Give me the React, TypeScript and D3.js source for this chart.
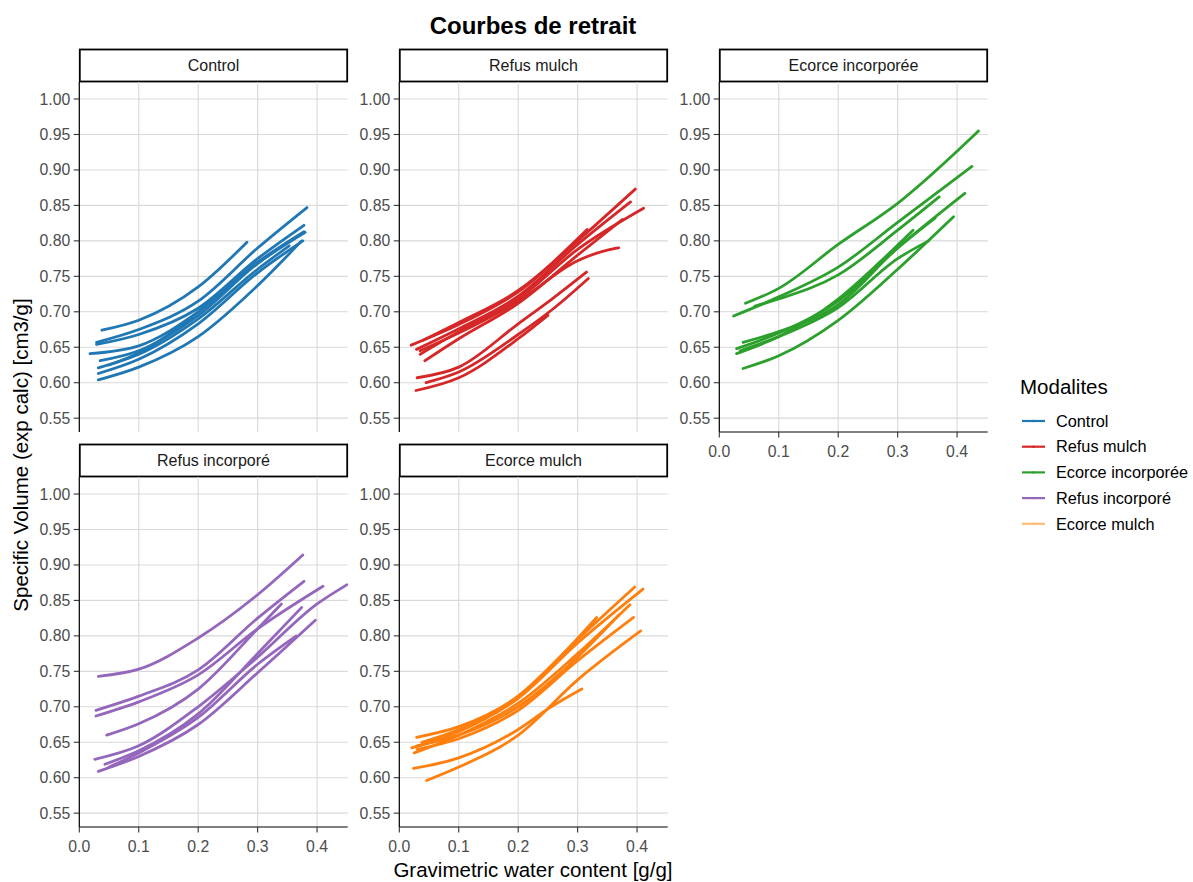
import React from "react";
import * as d3 from "d3";

// facet names and colours
const modalites = ["Control", "Refus mulch", "Ecorce incorporée", "Refus incorporé", "Ecorce mulch"];
const lineColors = ["#1f77b4", "#d62728", "#2ca02c", "#9467bd", "#ff7f0e"];
const keyColors = ["#1f77b4", "#d62728", "#2ca02c", "#9467bd", "#ffbb78"];

const xTicks = [0.0, 0.1, 0.2, 0.3, 0.4];
const yTicks = [0.55, 0.6, 0.65, 0.7, 0.75, 0.8, 0.85, 0.9, 0.95, 1.0];

// [water content, specific volume], one array per sample
const controlCurves = [
  [[0.038, 0.674], [0.1, 0.688], [0.2, 0.735], [0.282, 0.798]],
  [[0.029, 0.657], [0.1, 0.675], [0.2, 0.715], [0.3, 0.79], [0.383, 0.847]],
  [[0.029, 0.654], [0.1, 0.668], [0.2, 0.705], [0.3, 0.775], [0.378, 0.822]],
  [[0.018, 0.641], [0.1, 0.652], [0.2, 0.7], [0.3, 0.77], [0.378, 0.813]],
  [[0.035, 0.631], [0.1, 0.645], [0.2, 0.695], [0.3, 0.768], [0.38, 0.812]],
  [[0.032, 0.621], [0.1, 0.64], [0.2, 0.69], [0.3, 0.76], [0.353, 0.793]],
  [[0.032, 0.613], [0.1, 0.633], [0.2, 0.683], [0.3, 0.755], [0.376, 0.8]],
  [[0.05, 0.625], [0.1, 0.642], [0.2, 0.7], [0.27, 0.752]],
  [[0.032, 0.604], [0.1, 0.622], [0.2, 0.665], [0.3, 0.737], [0.374, 0.8]],
];

const refusMulchCurves = [
  [[0.02, 0.653], [0.1, 0.682], [0.2, 0.728], [0.3, 0.8], [0.397, 0.873]],
  [[0.029, 0.647], [0.1, 0.676], [0.2, 0.722], [0.3, 0.795], [0.389, 0.855]],
  [[0.035, 0.64], [0.1, 0.672], [0.2, 0.718], [0.3, 0.788], [0.411, 0.846]],
  [[0.043, 0.631], [0.1, 0.662], [0.2, 0.712], [0.3, 0.78], [0.375, 0.83]],
  [[0.04, 0.66], [0.1, 0.685], [0.2, 0.73], [0.316, 0.816]],
  [[0.035, 0.645], [0.1, 0.67], [0.2, 0.715], [0.3, 0.772], [0.35, 0.787], [0.369, 0.79]],
  [[0.03, 0.607], [0.1, 0.622], [0.2, 0.683], [0.26, 0.72], [0.315, 0.756]],
  [[0.045, 0.6], [0.1, 0.615], [0.2, 0.668], [0.26, 0.705], [0.318, 0.747]],
  [[0.028, 0.589], [0.1, 0.607], [0.2, 0.662], [0.25, 0.695]],
];

const ecorceIncCurves = [
  [[0.044, 0.712], [0.1, 0.733], [0.2, 0.795], [0.3, 0.853], [0.436, 0.955]],
  [[0.024, 0.694], [0.1, 0.721], [0.2, 0.763], [0.3, 0.826], [0.425, 0.905]],
  [[0.06, 0.708], [0.1, 0.718], [0.2, 0.752], [0.3, 0.815], [0.37, 0.862]],
  [[0.029, 0.648], [0.1, 0.67], [0.2, 0.715], [0.3, 0.79], [0.413, 0.867]],
  [[0.04, 0.657], [0.1, 0.672], [0.2, 0.71], [0.3, 0.79], [0.363, 0.832]],
  [[0.029, 0.641], [0.1, 0.665], [0.2, 0.718], [0.27, 0.77], [0.326, 0.815]],
  [[0.035, 0.645], [0.1, 0.665], [0.2, 0.706], [0.3, 0.775], [0.352, 0.8]],
  [[0.04, 0.62], [0.1, 0.638], [0.2, 0.688], [0.3, 0.76], [0.394, 0.834]],
];

const refusIncCurves = [
  [[0.032, 0.743], [0.1, 0.753], [0.2, 0.797], [0.3, 0.858], [0.376, 0.914]],
  [[0.028, 0.695], [0.1, 0.715], [0.2, 0.752], [0.3, 0.825], [0.378, 0.877]],
  [[0.028, 0.687], [0.1, 0.707], [0.2, 0.745], [0.3, 0.81], [0.41, 0.87]],
  [[0.046, 0.66], [0.1, 0.676], [0.2, 0.725], [0.3, 0.81], [0.34, 0.845]],
  [[0.026, 0.626], [0.1, 0.645], [0.2, 0.7], [0.3, 0.77], [0.4, 0.845], [0.45, 0.872]],
  [[0.043, 0.619], [0.1, 0.638], [0.2, 0.69], [0.3, 0.775], [0.374, 0.84]],
  [[0.032, 0.609], [0.1, 0.63], [0.2, 0.675], [0.3, 0.748], [0.397, 0.822]],
  [[0.05, 0.615], [0.1, 0.635], [0.2, 0.685], [0.3, 0.76], [0.365, 0.8]],
];

const ecorceMulchCurves = [
  [[0.029, 0.657], [0.1, 0.672], [0.2, 0.715], [0.3, 0.795], [0.396, 0.869]],
  [[0.021, 0.642], [0.1, 0.665], [0.2, 0.712], [0.3, 0.79], [0.41, 0.866]],
  [[0.025, 0.635], [0.1, 0.66], [0.2, 0.705], [0.3, 0.775], [0.388, 0.844]],
  [[0.038, 0.65], [0.1, 0.668], [0.2, 0.715], [0.27, 0.77], [0.332, 0.826]],
  [[0.03, 0.64], [0.1, 0.655], [0.2, 0.695], [0.3, 0.765], [0.394, 0.826]],
  [[0.03, 0.645], [0.1, 0.66], [0.2, 0.7], [0.3, 0.77], [0.37, 0.83]],
  [[0.046, 0.596], [0.1, 0.615], [0.2, 0.66], [0.3, 0.738], [0.406, 0.807]],
  [[0.024, 0.613], [0.1, 0.628], [0.2, 0.668], [0.25, 0.697], [0.307, 0.725]],
];

const allCurves = [controlCurves, refusMulchCurves, ecorceIncCurves, refusIncCurves, ecorceMulchCurves];

const W = 1193;
const H = 882;
const font = "'Liberation Sans', Arial, sans-serif";
const colLeft = [79.3, 399.3, 719.3];
const rowTop = [82, 477];
const pw = 268.4;
const ph = 350;
const stripH = 33;

const x = d3.scaleLinear().domain([0, 0.4515]).range([0, pw]);
const y = d3.scaleLinear().domain([0.5305, 1.024]).range([ph, 0]);
const line = d3
  .line<number[]>()
  .x((d) => x(d[0]))
  .y((d) => y(d[1]))
  .curve(d3.curveMonotoneX);

const Panel = ({ index }: { index: number }) => {
  const col = index % 3;
  const row = Math.floor(index / 3);
  const showX = index >= 2;
  return (
    <g transform={`translate(${colLeft[col]},${rowTop[row]})`}>
      {/* strip */}
      <rect x={0.5} y={-stripH + 0.5} width={pw - 1} height={stripH - 1} fill="white" stroke="black" strokeWidth={1.8} />
      <text x={pw / 2} y={-stripH / 2} dy="0.35em" textAnchor="middle" fontSize={16} fill="#1a1a1a">
        {modalites[index]}
      </text>
      {/* grid */}
      {yTicks.map((t) => (
        <line key={"gy" + t} x1={0} x2={pw} y1={y(t)} y2={y(t)} stroke="#d9d9d9" strokeWidth={1.1} />
      ))}
      {xTicks.map((t) => (
        <line key={"gx" + t} x1={x(t)} x2={x(t)} y1={0} y2={ph} stroke="#d9d9d9" strokeWidth={1.1} />
      ))}
      {/* curves */}
      {allCurves[index].map((c, i) => (
        <path key={i} d={line(c) || ""} fill="none" stroke={lineColors[index]} strokeWidth={2.8} strokeLinecap="round" strokeLinejoin="round" />
      ))}
      {/* y axis */}
      <line x1={0} x2={0} y1={0} y2={ph} stroke="black" strokeWidth={1.2} />
      {yTicks.map((t) => (
        <g key={"ty" + t} transform={`translate(0,${y(t)})`}>
          <line x1={-5.5} x2={0} stroke="#333" strokeWidth={1.1} />
          <text x={-9} dy="0.35em" textAnchor="end" fontSize={15.8} fill="#4d4d4d">
            {d3.format(".2f")(t)}
          </text>
        </g>
      ))}
      {/* x axis */}
      {showX && (
        <g transform={`translate(0,${ph})`}>
          <line x1={0} x2={pw} stroke="black" strokeWidth={1.2} />
          {xTicks.map((t) => (
            <g key={"tx" + t} transform={`translate(${x(t)},0)`}>
              <line y1={0} y2={5.5} stroke="#333" strokeWidth={1.1} />
              <text y={19.5} dy="0.35em" textAnchor="middle" fontSize={15.8} fill="#4d4d4d">
                {d3.format(".1f")(t)}
              </text>
            </g>
          ))}
        </g>
      )}
    </g>
  );
};

const Legend = () => (
  <g transform="translate(1020,0)">
    <text x={0} y={387} dy="0.35em" fontSize={20.5} fill="black">
      Modalites
    </text>
    {modalites.map((m, i) => {
      const cy = 421 + i * 25.7;
      return (
        <g key={m}>
          <line x1={2} x2={25} y1={cy} y2={cy} stroke={keyColors[i]} strokeWidth={2.2} />
          <circle cx={13.5} cy={cy} r={1.2} fill={keyColors[i]} />
          <text x={36} y={cy} dy="0.35em" fontSize={16.3} fill="black">
            {m}
          </text>
        </g>
      );
    })}
  </g>
);

export default function App() {
  return (
    <svg width={W} height={H} style={{ position: "absolute", left: 0, top: 0, display: "block" }} fontFamily={font}>
      <rect width={W} height={H} fill="white" />
      <text x={533} y={26} dy="0.35em" textAnchor="middle" fontSize={24} fontWeight="bold">
        Courbes de retrait
      </text>
      {modalites.map((m, i) => (
        <Panel key={m} index={i} />
      ))}
      <text transform="translate(21,455) rotate(-90)" textAnchor="middle" dy="0.35em" fontSize={20.5}>
        Specific Volume (exp calc) [cm3/g]
      </text>
      <text x={533} y={870} dy="0.35em" textAnchor="middle" fontSize={20.5}>
        Gravimetric water content [g/g]
      </text>
      <Legend />
    </svg>
  );
}
